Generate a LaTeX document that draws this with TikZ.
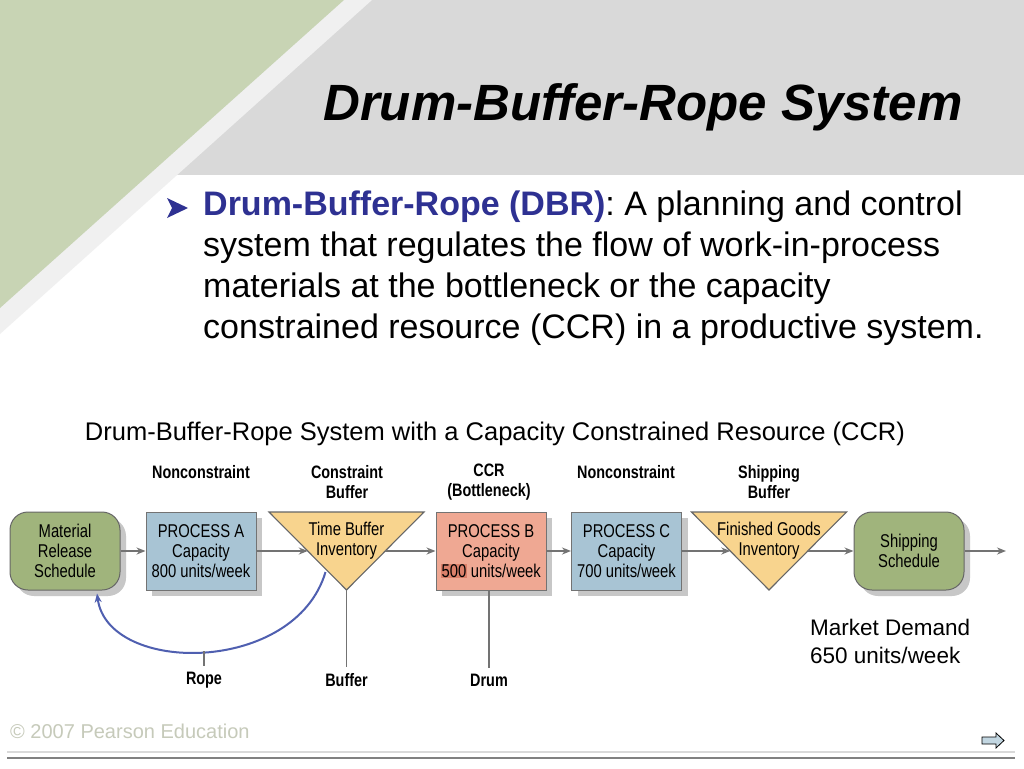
\documentclass[tikz,border=0pt]{standalone}
\usepackage{fontspec}
\setmainfont{Liberation Sans}
\newfontfamily\condfont[FakeStretch=0.8]{Liberation Sans}
\usetikzlibrary{arrows.meta, calc, shadows}

\definecolor{slidegreen}{HTML}{C8D4B4}
\definecolor{slidegray}{HTML}{D9D9D9}
\definecolor{bullblue}{HTML}{2E3192}
\definecolor{schedgreen}{HTML}{A0B47C}
\definecolor{procblue}{HTML}{A8C4D4}
\definecolor{bufyellow}{HTML}{F8D48E}
\definecolor{ccrsalmon}{HTML}{EFA893}
\definecolor{ccrdark}{HTML}{DB806A}
\definecolor{ropeblue}{HTML}{4F5FB0}
\definecolor{footgray}{HTML}{C6CABA}

\newcommand{\ccrmark}[1]{{\setlength{\fboxsep}{0.5pt}\colorbox{ccrdark}{#1}}}

\begin{document}
\begin{tikzpicture}[x=1pt, y=-1pt, >={Stealth[length=9pt, width=7pt]},
  flow/.style={->, draw=black!55, line width=2.2pt},
  tie/.style={draw=black!55, line width=1.4pt},
  procbox/.style={draw=black!55, line width=1pt, minimum width=110pt, minimum height=78pt, inner sep=0pt,
    align=center, font=\condfont\fontsize{18.5}{20}\selectfont,
    drop shadow={shadow xshift=6pt, shadow yshift=-6pt, fill=black!22, opacity=1}},
  schedbox/.style={procbox, rounded corners=18pt, fill=schedgreen, draw=black!60},
  buftri/.style={draw=black!60, line width=1.1pt, fill=bufyellow},
  buftext/.style={align=center, font=\condfont\fontsize{18.5}{20}\selectfont},
  head/.style={align=center, font=\condfont\bfseries\fontsize{18}{20}\selectfont},
  every node/.style={inner sep=0pt}]
  \useasboundingbox (0,0) rectangle (1024,768);

  % slide background
  \fill[white] (0,0) rectangle (1024,768);
  \fill[slidegray] (0,0) rectangle (1024,175);
  \fill[black!6] (0,0) -- (372,0) -- (0,334) -- cycle;
  \fill[slidegreen] (0,0) -- (344,0) -- (0,308) -- cycle;

  \node[font=\bfseries\itshape\fontsize{51}{60}\selectfont] (title) at (643,107) {Drum-Buffer-Rope System};

  \fill[bullblue] (167,198) -- (188,208) -- (167,218) -- (172,208) -- cycle;
  \node[anchor=north west, align=left, font=\fontsize{34}{41}\selectfont] (bullet) at (203,191)
    {{\bfseries\color{bullblue}Drum-Buffer-Rope (DBR)}: A planning and control\\
     system that regulates the flow of work-in-process\\
     materials at the bottleneck or the capacity\\
     constrained resource (CCR) in a productive system.};

  \node[font=\fontsize{25.5}{30}\selectfont] (caption) at (495,434) {Drum-Buffer-Rope System with a Capacity Constrained Resource (CCR)};

  % headers
  \node[head] (hA) at (201,472) {Nonconstraint};
  \node[head] (hcb) at (347,482) {Constraint\\Buffer};
  \node[head] (hccr) at (489,482) {CCR\\(Bottleneck)};
  \node[head] (hC) at (626,472) {Nonconstraint};
  \node[head] (hsb) at (769,482) {Shipping\\Buffer};

  % flow line
  \node[schedbox] (mrs) at (65,551) {Material\\Release\\Schedule};
  \node[procbox, fill=procblue] (procA) at (201,551) {PROCESS A\\Capacity\\800 units/week};
  \coordinate (tb1) at (346.5,551);
  \draw[buftri] ($(tb1)+(-77.5,-39)$) -- ($(tb1)+(77.5,-39)$) -- ($(tb1)+(0,39)$) -- cycle;
  \node[buftext] (tbinv) at ($(tb1)+(0,-10)$) {Time Buffer\\Inventory};
  \node[procbox, fill=ccrsalmon] (procB) at (491,551) {PROCESS B\\Capacity\\\ccrmark{500} units/week};
  \node[procbox, fill=procblue] (procC) at (626.5,551) {PROCESS C\\Capacity\\700 units/week};
  \coordinate (tb2) at (769,551);
  \draw[buftri] ($(tb2)+(-77.5,-39)$) -- ($(tb2)+(77.5,-39)$) -- ($(tb2)+(0,39)$) -- cycle;
  \node[buftext] (fginv) at ($(tb2)+(0,-10)$) {Finished Goods\\Inventory};
  \node[schedbox] (ship) at (909,551) {Shipping\\Schedule};
  \coordinate (out) at (1006,551);

  \draw[flow] (mrs) -- (procA);
  \draw[flow] (procA) -- ($(tb1)+(-38.75,0)$);
  \draw[flow] ($(tb1)+(38.75,0)$) -- (procB);
  \draw[flow] (procB) -- (procC);
  \draw[flow] (procC) -- ($(tb2)+(-38.75,0)$);
  \draw[flow] ($(tb2)+(38.75,0)$) -- (ship);
  \draw[flow] (ship) -- (out);

  % rope, buffer, drum
  \node[head] (rope) at (204,680) {Rope};
  \node[head] (buf) at (346.5,680) {Buffer};
  \node[head] (drum) at (489,680) {Drum};
  \coordinate (ropelow) at (204,651);
  \draw[->, draw=ropeblue, line width=2pt] ($(tb1)+(-21,21)$) .. controls (295,675) and (108,675) .. ($(mrs.south)+(32,3)$);
  \draw[tie] (ropelow) -- ($(rope.north)+(0,-6)$);
  \draw[tie] ($(tb1)+(0,39)$) -- ($(buf.north)+(0,-6)$);
  \draw[tie] (procB.south -| drum) -- ($(drum.north)+(0,-6)$);

  \node[anchor=west, align=left, font=\fontsize{22.5}{28}\selectfont] (demand) at (810,641) {Market Demand\\650 units/week};

  % footer
  \node[anchor=west, text=footgray, font=\fontsize{20}{24}\selectfont] (copy) at (10,731) {\textcopyright{} 2007 Pearson Education};
  \draw[black!15, line width=2pt] (7,752) -- (1015,752);
  \draw[black!50, line width=2.2pt] (7,758) -- (1015,758);
  \draw[fill=procblue!70, line width=0.8pt] (982,737) -- (996,737) -- (996,733) -- (1004,740.5) -- (996,748) -- (996,744) -- (982,744) -- cycle;
\end{tikzpicture}
\end{document}
